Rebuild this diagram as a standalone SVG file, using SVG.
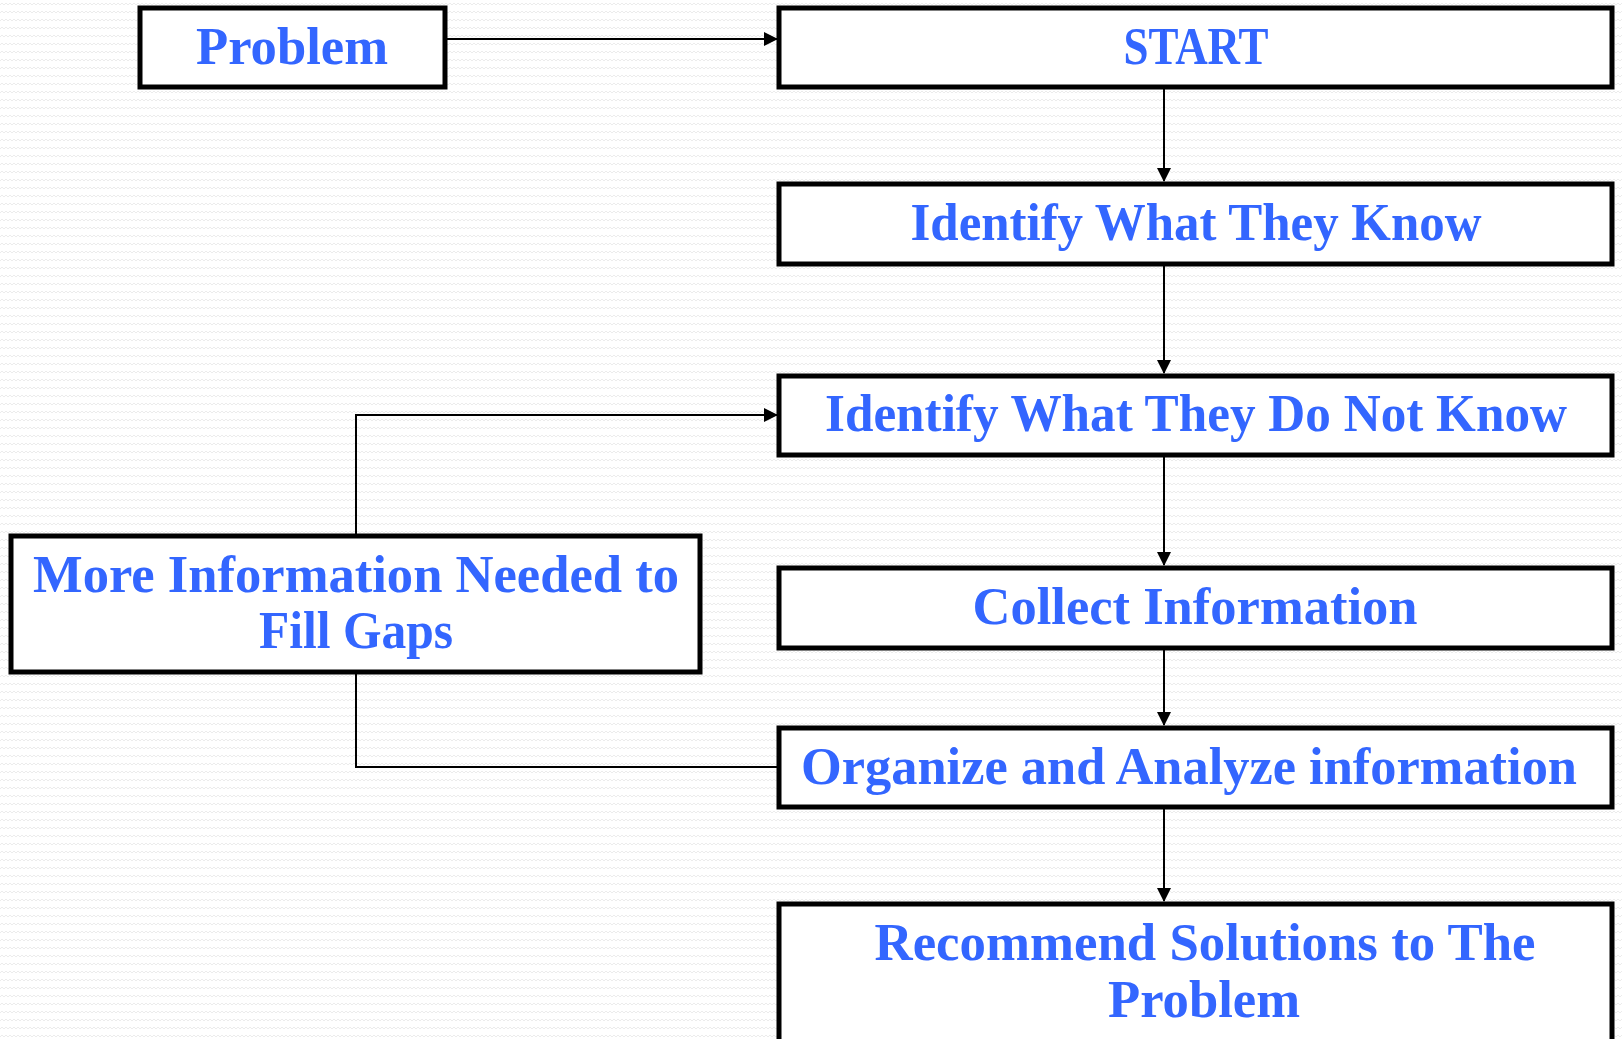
<svg xmlns="http://www.w3.org/2000/svg" width="1622" height="1039" viewBox="0 0 1622 1039">
<style>
.box{fill:#ffffff;stroke:#000000;stroke-width:5}
.lbl{font-family:"Liberation Serif",serif;font-weight:bold;font-size:52px;fill:#3366ff;text-anchor:middle}
.con{fill:none;stroke:#000000;stroke-width:2}
</style>
<defs>
<pattern id="zz" width="8" height="8" patternUnits="userSpaceOnUse">
<polyline points="0,5 2,3 4,5 6,3 8,5" fill="none" stroke="#ececec" stroke-width="1"/>
</pattern>
<marker id="arr" markerWidth="14" markerHeight="14" refX="13" refY="7" orient="auto" markerUnits="userSpaceOnUse">
<path d="M0,0 L14,7 L0,14 Z" fill="#000000"/>
</marker>
</defs>
<rect x="0" y="0" width="1622" height="1039" fill="#ffffff"/>
<rect x="0" y="0" width="1622" height="1039" fill="url(#zz)"/>
<g id="connectors">
<path class="con" d="M445,39 L777,39" marker-end="url(#arr)"/>
<path class="con" d="M1164,88 L1164,181" marker-end="url(#arr)"/>
<path class="con" d="M1164,265 L1164,373" marker-end="url(#arr)"/>
<path class="con" d="M1164,456 L1164,565" marker-end="url(#arr)"/>
<path class="con" d="M1164,649 L1164,725" marker-end="url(#arr)"/>
<path class="con" d="M1164,808 L1164,901" marker-end="url(#arr)"/>
<path class="con" d="M356,535 L356,415 L777,415" marker-end="url(#arr)"/>
<path class="con" d="M356,672 L356,767 L779,767"/>
</g>
<g id="problem">
<rect class="box" x="140" y="8" width="305" height="79"/>
<text class="lbl" x="292" y="64" textLength="192" lengthAdjust="spacingAndGlyphs">Problem</text>
</g>
<g id="start">
<rect class="box" x="779" y="8" width="833" height="79"/>
<text class="lbl" x="1196" y="64" textLength="145" lengthAdjust="spacingAndGlyphs">START</text>
</g>
<g id="know">
<rect class="box" x="779" y="184" width="833" height="80"/>
<text class="lbl" x="1196" y="240" textLength="571" lengthAdjust="spacingAndGlyphs">Identify What They Know</text>
</g>
<g id="notknow">
<rect class="box" x="779" y="376" width="833" height="79"/>
<text class="lbl" x="1196" y="431" textLength="742" lengthAdjust="spacingAndGlyphs">Identify What They Do Not Know</text>
</g>
<g id="collect">
<rect class="box" x="779" y="568" width="833" height="80"/>
<text class="lbl" x="1195" y="624" textLength="445" lengthAdjust="spacingAndGlyphs">Collect Information</text>
</g>
<g id="organize">
<rect class="box" x="779" y="728" width="833" height="79"/>
<text class="lbl" x="1189" y="784" textLength="776" lengthAdjust="spacingAndGlyphs">Organize and Analyze information</text>
</g>
<g id="recommend">
<rect class="box" x="779" y="904" width="833" height="145"/>
<text class="lbl" x="1205" y="960" textLength="661" lengthAdjust="spacingAndGlyphs">Recommend Solutions to The</text>
<text class="lbl" x="1204" y="1017" textLength="192" lengthAdjust="spacingAndGlyphs">Problem</text>
</g>
<g id="moreinfo">
<rect class="box" x="11" y="536" width="689" height="136"/>
<text class="lbl" x="356" y="592" textLength="646" lengthAdjust="spacingAndGlyphs">More Information Needed to</text>
<text class="lbl" x="356" y="648" textLength="194" lengthAdjust="spacingAndGlyphs">Fill Gaps</text>
</g>
</svg>
